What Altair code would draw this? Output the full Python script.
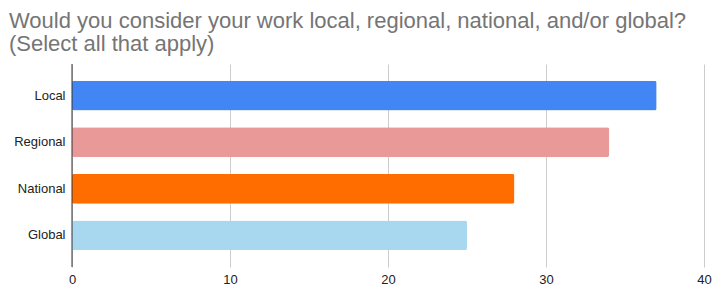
import altair as alt
import pandas as pd

categories = ["Local", "Regional", "National", "Global"]
values = [37, 34, 28, 25]
colors = ["#4285f4", "#ea9999", "#ff6d01", "#a8d8ef"]

df = pd.DataFrame({"category": categories, "value": values, "color": colors})

chart = alt.Chart(df).mark_bar(cornerRadius=2).encode(
    y=alt.Y("category:N", sort=categories,
            scale=alt.Scale(paddingInner=0.36, paddingOuter=0.36),
            axis=alt.Axis(title=None, ticks=False, labelPadding=7, labelFontSize=13,
                          labelColor="#222222", labelFont="Liberation Sans",
                          domain=False, grid=False)),
    x=alt.X("value:Q", scale=alt.Scale(domain=[0, 40]),
            axis=alt.Axis(title=None, values=[0, 10, 20, 30, 40], ticks=False,
                          labelPadding=6, labelFontSize=13, labelColor="#222222",
                          labelFont="Liberation Sans", labelFlush=False, domain=False,
                          gridColor="#cccccc", gridWidth=1)),
    color=alt.Color("color:N", scale=None),
)

zero = alt.Chart(pd.DataFrame({"z": [0]})).mark_rule(color="#333333", strokeWidth=1).encode(
    x=alt.X("z:Q")
)

final = alt.layer(chart, zero).properties(
    width=632,
    height=203,
    autosize=alt.AutoSizeParams(type="none"),
    padding={"left": 64, "top": 56, "right": 8, "bottom": 19},
    title=alt.TitleParams(
        text=["Would you consider your work local, regional, national, and/or global?",
              "(Select all that apply)"],
        anchor="start", frame="group", dx=-63, offset=8,
        fontSize=22, font="Liberation Sans", fontWeight="normal",
        color="#757575", lineHeight=23,
    ),
).configure_view(stroke=None)

final.save("out.html", embed_options={"renderer": "svg", "actions": False})
